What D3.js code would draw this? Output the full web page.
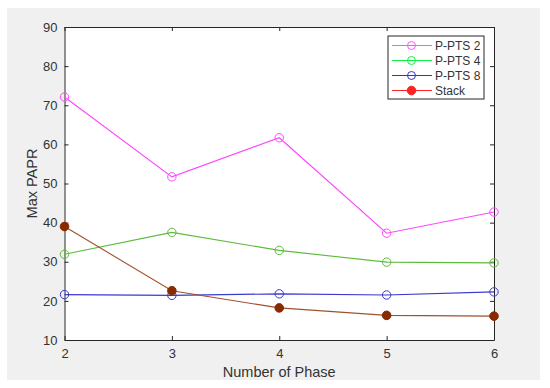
<!DOCTYPE html>
<html>
<head>
<meta charset="utf-8">
<script src="https://cdn.jsdelivr.net/npm/d3@7"></script>
<style>
  body { margin: 0; background: #fff; }
  text { font-family: "Liberation Sans", Arial, sans-serif; }
</style>
</head>
<body>
<div id="chart"></div>
<script>
// data
const phases = [2, 3, 4, 5, 6];
const pts2 = [72.1, 51.7, 61.7, 37.3, 42.7];
const pts4 = [31.9, 37.5, 32.9, 29.9, 29.7];
const pts8 = [21.6, 21.4, 21.8, 21.5, 22.3];
const stack = [39.0, 22.6, 18.2, 16.3, 16.1];
const yTicks = [10, 20, 30, 40, 50, 60, 70, 80, 90];

const series = [
  { name: "P-PTS 2", values: pts2, color: "#ff44ff", legendColor: "#ff55ff", filled: false },
  { name: "P-PTS 4", values: pts4, color: "#5cbb3a", legendColor: "#11ee44", filled: false },
  { name: "P-PTS 8", values: pts8, color: "#3a3acc", legendColor: "#3333cc", filled: false },
  { name: "Stack", values: stack, color: "#a0502c", legendColor: "#ff2222", filled: true, markColor: "#8a2a00" }
];

const W = 550, H = 388;
const margin = { left: 64.5, top: 27, right: 56, bottom: 48 };
const iw = W - margin.left - margin.right;
const ih = H - margin.top - margin.bottom;

const svg = d3.select("#chart").append("svg")
  .attr("width", W)
  .attr("height", H);

// grey figure background
svg.append("rect")
  .attr("x", 7).attr("y", 8)
  .attr("width", 533).attr("height", 372)
  .attr("fill", "#f0f0f0");

const g = svg.append("g").attr("transform", `translate(${margin.left},${margin.top})`);

const x = d3.scaleLinear().domain([2, 6]).range([0, iw]);
const y = d3.scaleLinear().domain([10, 90]).range([ih, 0]);

g.append("rect").attr("width", iw).attr("height", ih).attr("fill", "#fff");

const axisColor = "#262626";
const tickLen = 4;

const xb = g.append("g").attr("transform", `translate(0,${ih})`)
  .call(d3.axisBottom(x).tickValues(phases).tickFormat(d3.format("d")).tickSizeInner(-tickLen).tickSizeOuter(0).tickPadding(9));
const yl = g.append("g")
  .call(d3.axisLeft(y).tickValues(yTicks).tickSizeInner(-tickLen).tickSizeOuter(0).tickPadding(7));
const xt = g.append("g")
  .call(d3.axisTop(x).tickValues(phases).tickFormat("").tickSizeInner(-tickLen).tickSizeOuter(0));
const yr = g.append("g").attr("transform", `translate(${iw},0)`)
  .call(d3.axisRight(y).tickValues(yTicks).tickFormat("").tickSizeInner(-tickLen).tickSizeOuter(0));

[xb, yl, xt, yr].forEach(a => {
  a.select(".domain").attr("stroke", axisColor).attr("stroke-width", 1);
  a.selectAll(".tick line").attr("stroke", axisColor);
  a.selectAll(".tick text").attr("fill", "#333").style("font-size", "13px")
    .style("font-family", "'Liberation Sans', Arial, sans-serif");
});

const line = d3.line()
  .x((d, i) => x(phases[i]))
  .y(d => y(d));

series.forEach(s => {
  g.append("path")
    .datum(s.values)
    .attr("fill", "none")
    .attr("stroke", s.color)
    .attr("stroke-width", 1.1)
    .attr("d", line);
});

series.forEach(s => {
  g.selectAll(null)
    .data(s.values)
    .enter().append("circle")
    .attr("cx", (d, i) => x(phases[i]))
    .attr("cy", d => y(d))
    .attr("r", s.filled ? 4.3 : 4.2)
    .attr("fill", s.filled ? s.markColor : "none")
    .attr("stroke", s.filled ? s.markColor : s.color)
    .attr("stroke-width", 1);
});

// axis labels
svg.append("text")
  .attr("x", margin.left + iw / 2)
  .attr("y", 377)
  .attr("text-anchor", "middle")
  .attr("fill", "#333")
  .style("font-size", "14.5px")
  .text("Number of Phase");

svg.append("text")
  .attr("transform", `translate(37,${margin.top + ih / 2}) rotate(-90)`)
  .attr("text-anchor", "middle")
  .attr("fill", "#333")
  .style("font-size", "14.5px")
  .text("Max PAPR");

// legend
const lg = svg.append("g").attr("transform", "translate(388,36)");
lg.append("rect")
  .attr("width", 96).attr("height", 63)
  .attr("fill", "#fff")
  .attr("stroke", axisColor)
  .attr("stroke-width", 1);

series.forEach((s, i) => {
  const yy = 9.5 + i * 15;
  lg.append("line")
    .attr("x1", 4).attr("x2", 44)
    .attr("y1", yy).attr("y2", yy)
    .attr("stroke", s.legendColor).attr("stroke-width", 1.1);
  lg.append("circle")
    .attr("cx", 23.5).attr("cy", yy).attr("r", s.filled ? 4.3 : 4)
    .attr("fill", s.filled ? s.legendColor : "none")
    .attr("stroke", s.legendColor).attr("stroke-width", 1);
  lg.append("text")
    .attr("x", 47).attr("y", yy + 4.3)
    .attr("fill", "#333")
    .style("font-size", "12px")
    .text(s.name);
});
</script>
</body>
</html>
